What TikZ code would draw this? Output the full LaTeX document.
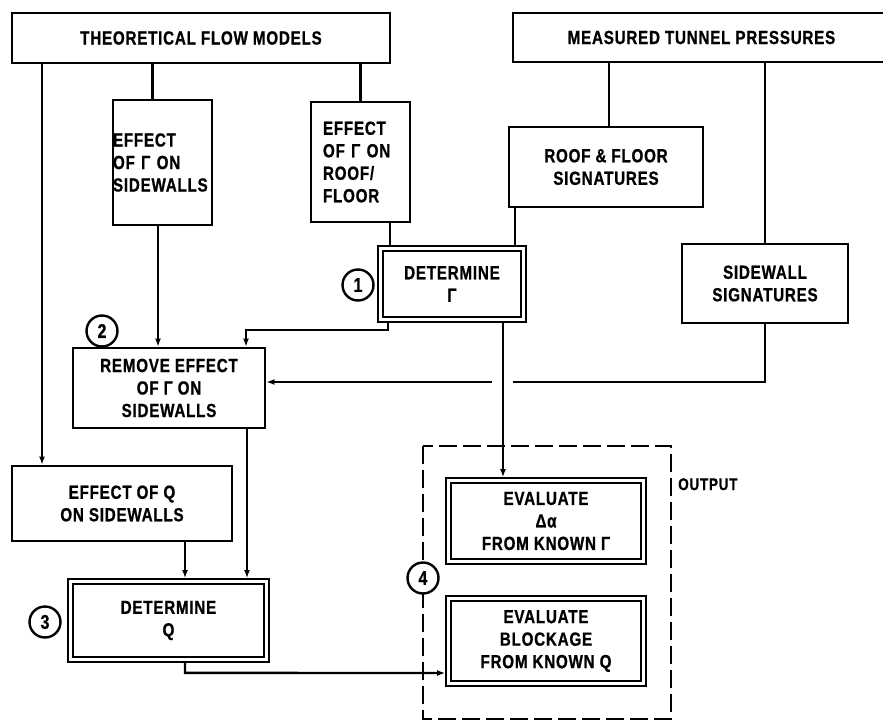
\documentclass[tikz,border=0pt]{standalone}
\usepackage{fontspec}
\newfontfamily\lab{Liberation Sans}[UprightFont=* Bold, FakeStretch=0.8, LetterSpace=4, FakeBold=0.8]
\usetikzlibrary{arrows.meta}
\tikzset{
  box/.style={draw, line width=2.8pt, inner sep=0pt, align=center, fill=white,
    font=\lab\fontsize{19}{22.5}\selectfont},
  dbox/.style={box, double, double distance=2.5pt, line width=2.2pt, outer sep=3.4pt},
  con/.style={line width=2.4pt},
  arr/.style={con, -{Latex[length=8pt,width=6pt]}},
  num/.style={circle, draw, line width=2.4pt, fill=white, minimum size=31pt, inner sep=0pt,
    font=\lab\fontsize{20}{20}\selectfont},
  outline/.style={line width=2.4pt, dash pattern=on 18pt off 6pt},
  lbl/.style={inner sep=0pt, font=\lab\fontsize{17}{17}\selectfont}
}
\begin{document}
\begin{tikzpicture}[x=1pt,y=-1pt]
\useasboundingbox (0,0) rectangle (883,722);
\fill[white] (0,0) rectangle (883,722);

% output dashed frame
\draw[outline] (423,446) rectangle (671,719);
\node[lbl, anchor=north west] (out) at (678,478) {OUTPUT};

% top boxes
\node[box, minimum width=378, minimum height=50] (tfm) at (201,38) {THEORETICAL FLOW MODELS};
\node[box, minimum width=377, minimum height=49] (mtp) at (701.5,37.5) {MEASURED TUNNEL PRESSURES};

\node[box, minimum width=99, minimum height=125, text width=99, align=left] (esw) at (162.5,162.5)
  {EFFECT\\OF Γ ON\\SIDEWALLS};
\node[box, minimum width=99, minimum height=120, text width=75, inner xsep=12pt, align=left] (erf) at (360.5,162)
  {EFFECT\\OF Γ ON\\ROOF/\\FLOOR};
\node[box, minimum width=194, minimum height=80] (rfs) at (606,167) {ROOF \& FLOOR\\SIGNATURES};
\node[dbox, minimum width=143, minimum height=71] (dg) at (452,284) {DETERMINE\\Γ};
\node[box, minimum width=166, minimum height=79] (sws) at (765,283.5) {SIDEWALL\\SIGNATURES};
\node[box, minimum width=192, minimum height=80] (rem) at (169,388) {REMOVE EFFECT\\OF Γ ON\\SIDEWALLS};
\node[box, minimum width=220, minimum height=75] (eq) at (122,503.5) {EFFECT OF Q\\ON SIDEWALLS};
\node[dbox, minimum width=196, minimum height=78] (dq) at (168.5,620.5) {DETERMINE\\Q};
\node[dbox, minimum width=195, minimum height=81] (eda) at (546,521) {EVALUATE\\Δα\\FROM KNOWN Γ};
\node[dbox, minimum width=195, minimum height=85] (ebl) at (546,641) {EVALUATE\\BLOCKAGE\\FROM KNOWN Q};

% connectors from the top boxes
\draw[con] (tfm.south -| esw.north) ++(-10,0) coordinate (t1) -- (t1 |- esw.north);
\draw[con] (erf.north) -- (erf.north |- tfm.south);
\draw[arr] (tfm.south -| 42,0) coordinate (t0) -- (t0 |- eq.north);
\draw[con] (mtp.south -| rfs.north) ++(3,0) coordinate (m1) -- (m1 |- rfs.north);
\draw[con] (mtp.south -| sws.north) -- (sws.north);
\draw[arr] (esw.south) ++(-4.5,0) coordinate (e1) -- (e1 |- rem.north);
\draw[con] (erf.south) ++(29.5,0) coordinate (r1) -- (r1 |- dg.north);
\draw[con] (rfs.south) ++(-91,0) coordinate (s1) -- (s1 |- dg.north);

% Determine Gamma to Remove
\coordinate (g1) at (388,0);
\draw[arr] (dg.south -| g1) -- ++(0,7) -| ([xshift=77pt]rem.north);
% sidewall signatures to Remove, with gap at crossing
\coordinate (hopR) at (513,382);
\coordinate (hopL) at (492,382);
\draw[con] (sws.south) |- (hopR);
\draw[arr] (hopL) -- (rem.east |- hopL);
% Determine Gamma to evaluate delta alpha
\coordinate (g2) at (503,0);
\draw[arr] (dg.south -| g2) -- (eda.north -| g2);

% to Determine Q
\draw[arr] (eq.south -| 185,0) coordinate (q1) -- (q1 |- dq.north);
\draw[arr] (rem.south -| 247,0) coordinate (q2) -- (q2 |- dq.north);
% Determine Q to blockage
\draw[arr] (dq.south -| 185,0) -- ++(0,10) -- (ebl.west |- 0,673);

% numbered circles
\node[num] (c1) at (358,285) {1};
\node[num] (c2) at (102,331) {2};
\node[num] (c3) at (45,622) {3};
\node[num] (c4) at (423,578) {4};
\end{tikzpicture}
\end{document}
